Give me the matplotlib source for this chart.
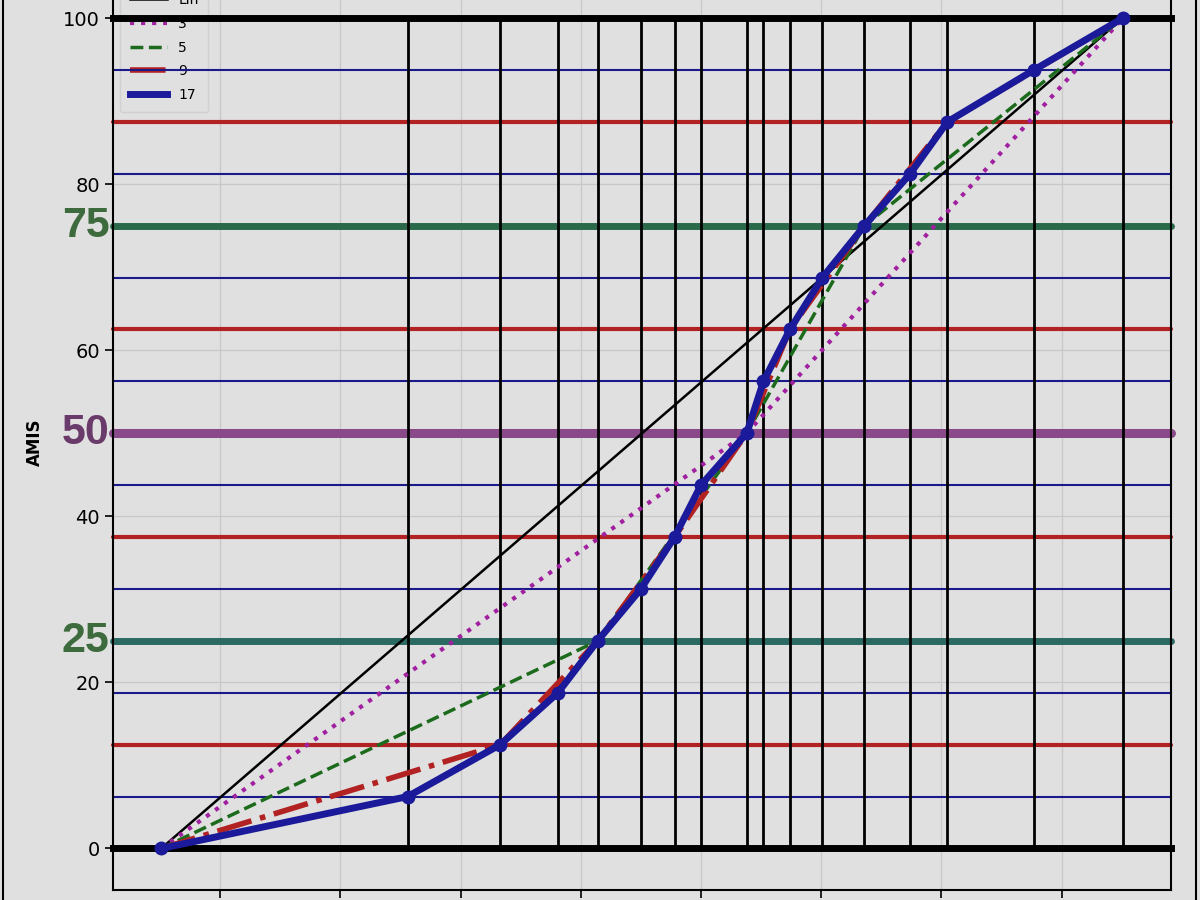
# ========== [IMPORT LIBRARY] ==========
import matplotlib
matplotlib.use("Agg")
import matplotlib.pyplot as plt
from matplotlib.patches import Rectangle
from matplotlib.transforms import blended_transform_factory

# ========== [DATA] ==========

# Level kuantil (17 titik, langkah 6.25)
levels = [0, 6.25, 12.5, 18.75, 25, 31.25, 37.5, 43.75, 50,
          56.25, 62.5, 68.75, 75, 81.25, 87.5, 93.75, 100]

# Posisi x titik kuantil
x_17 = [0.51, 2.56, 3.33, 3.81, 4.14, 4.50, 4.78, 5.00, 5.38,
        5.52, 5.74, 6.01, 6.36, 6.74, 7.05, 7.77, 8.51]

series_labels = ["Lin", "3", "5", "9", "17"]
series_step = [16, 8, 4, 2, 1]  # ambil tiap n titik dari 17 titik

big_labels = ["25", "50", "75"]
big_values = [25, 50, 75]
x_ticks = [1, 2, 3, 4, 5, 6, 7, 8]
y_ticks = [0, 20, 40, 60, 80, 100]

# ========== [STYLE] ==========
bg = "#e0e0e0"
series_style = {
    "Lin": dict(color="black", lw=1.8, ls="-"),
    "3": dict(color="#a020a0", lw=3, ls=":"),
    "5": dict(color="#1c6b1c", lw=2.5, ls="--"),
    "9": dict(color="#b22222", lw=4, ls="-."),
    "17": dict(color="#1a1a9a", lw=5, ls="-"),
}


def level_style(v):
    # warna dan ketebalan garis horizontal per level
    if v in (0, 100):
        return "black", 5
    if v == 50:
        return "#8a4a8a", 6.5
    if v == 75:
        return "#2a6a4a", 5
    if v == 25:
        return "#2a6a62", 5
    if v % 12.5 == 0:
        return "#b22222", 3
    return "#1a1a8a", 1.5


big_colors = {"25": "#3d6b3d", "50": "#6a3a6a", "75": "#3d6b3d"}

# ========== [PLOT] ==========
fig = plt.figure(figsize=(12, 9), dpi=100, facecolor=bg)
ax = fig.add_axes([0.0942, 0.0111, 0.8817, 1.015])
ax.set_facecolor(bg)

# Grid halus
ax.set_axisbelow(True)
ax.grid(True, color="#c8c8c8", lw=0.9)

# Garis horizontal tiap level
for v in levels:
    c, w = level_style(v)
    cap = "projecting" if c == "black" else "round"
    ax.axhline(v, color=c, lw=w, zorder=2, solid_capstyle=cap, clip_on=False)

# Garis vertikal dari 0 sampai 100
ax.vlines(x_17[1:], 0, 100, color="black", lw=2, zorder=2.1)

# Seri kuantil
for lab, step in zip(series_labels, series_step):
    st = series_style[lab]
    ax.plot(x_17[::step], levels[::step], label=lab, zorder=3,
            color=st["color"], linewidth=st["lw"], linestyle=st["ls"])

# Titik bulat seri 17 (tanpa masuk legend)
ax.plot(x_17, levels, ls="none", marker="o", ms=9,
        color=series_style["17"]["color"], zorder=3.5)

ax.set_xticks(x_ticks)
ax.set_yticks(y_ticks)
ax.tick_params(axis="both", labelsize=14, length=6, width=1.2, color="black")
ax.tick_params(axis="x", labelbottom=False)  # label sumbu x terpotong di gambar asli
for s in ax.spines.values():
    s.set_color("black")
    s.set_linewidth(1.5)

ax.set_ylabel("AMIS", fontsize=12, fontweight="bold")
ax.yaxis.set_label_coords(-0.065, 0.49)

# Label besar 25 / 50 / 75 di kiri sumbu
trans = blended_transform_factory(ax.transAxes, ax.transData)
for lab, v in zip(big_labels, big_values):
    ax.text(-0.003, v, lab, transform=trans, ha="right", va="center",
            fontsize=31, fontweight="bold", family=["Liberation Sans", "DejaVu Sans"],
            color=big_colors[lab])

leg = ax.legend(loc="upper left", fontsize=10, handlelength=2.7,
                labelspacing=0.7, borderpad=0.7, facecolor=bg, framealpha=0.8)
leg.set_zorder(1.5)

# Bingkai figure (hanya sisi kiri & kanan yang terlihat)
fig.patches.append(Rectangle((0.0025, -0.1), 0.9945, 1.3, transform=fig.transFigure,
                             fill=False, edgecolor="black", lw=1.5))

plt.savefig("out.png", dpi=100, facecolor=bg)
